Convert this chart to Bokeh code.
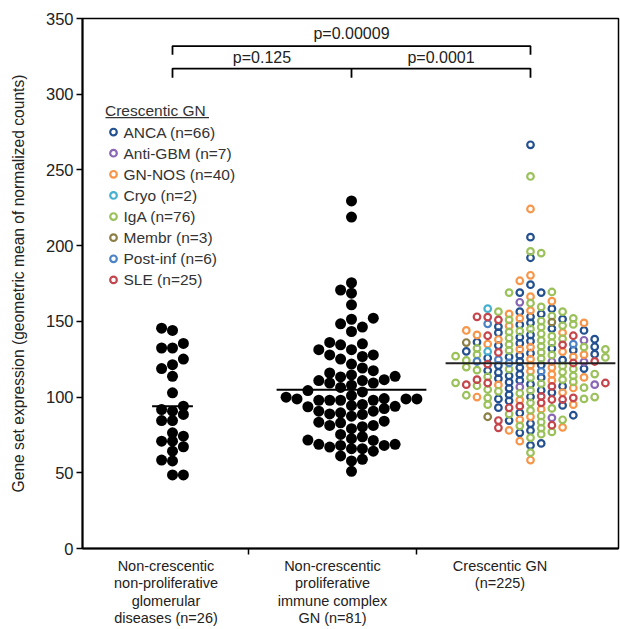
import numpy as np
from bokeh.plotting import figure
from bokeh.models import FixedTicker, Range1d
from bokeh.embed import file_html
from bokeh.resources import INLINE
from bokeh.core.properties import value

# ---------------- data ----------------
group_label_lines = [["Non-crescentic", "non-proliferative", "glomerular", "diseases (n=26)"],
                     ["Non-crescentic", "proliferative", "immune complex", "GN (n=81)"],
                     ["Crescentic GN", "(n=225)"]]

noncres_nonprolif = [145.5, 144.0, 135.4, 132.4, 132.4, 125.1, 121.4, 118.8, 113.7, 102.8,
                     94.0, 91.8, 88.5, 90.7, 84.5, 84.5, 74.2, 67.2, 76.4, 70.9,
                     64.3, 70.9, 57.8, 58.4, 48.6, 48.6]

noncres_prolif = [229.5, 218.9, 175.5, 170.7, 168.6, 160.9, 152.1, 151.4, 148.4, 146.2,
                  143.3, 136.1, 135.2, 134.5, 131.3, 131.3, 127.8, 127.8, 125.1, 126.8,
                  119.2, 121.8, 117.4, 114.6, 113.3, 113.7, 115.9, 110.9, 110.9, 111.5,
                  109.3, 109.3, 106.4, 107.8, 103.4, 104.3, 98.8, 98.8, 98.8, 97.9,
                  97.9, 97.9, 97.9, 99.9, 99.0, 101.0, 95.1, 93.9, 92.4, 94.4,
                  93.6, 90.7, 90.7, 88.9, 87.4, 88.5, 89.6, 83.0, 81.3, 81.3,
                  79.1, 84.1, 80.4, 83.4, 75.3, 72.5, 71.4, 68.8, 68.8, 71.6,
                  73.8, 68.1, 68.1, 65.9, 65.9, 64.3, 67.0, 58.9, 57.8, 61.1, 51.0]

subtypes = ["ANCA", "Anti-GBM", "GN-NOS", "Cryo", "IgA", "Membr", "Post-inf", "SLE"]
subtype_colors = ["#23508f", "#8a67b4", "#f7964a", "#46b1cf", "#9bc15a", "#8b7f45", "#4c82c6", "#c4464c"]

anca = [266.6, 205.6, 192.0, 174.2, 169.0, 169.0, 158.4, 156.4, 154.9, 153.0,
        151.5, 149.0, 147.8, 146.5, 144.0, 142.5, 141.0, 139.5, 138.2, 137.0,
        135.5, 134.0, 133.2, 132.0, 131.0, 130.2, 129.0, 127.5, 126.5, 125.8,
        124.5, 123.5, 120.8, 119.5, 118.8, 117.5, 116.2, 115.0, 114.0, 113.0,
        112.2, 111.0, 109.8, 108.5, 107.2, 105.8, 104.5, 103.0, 101.5, 100.2,
        98.8, 97.5, 121.2, 94.5, 93.0, 128.3, 89.5, 88.0, 136.3, 84.5,
        82.5, 145.2, 78.0, 76.4, 69.4, 68.1]
anti_gbm = [162.6, 137.5, 123.5, 123.2, 108.2, 106.7, 86.3]
gn_nos = [224.2, 180.4, 176.8, 166.3, 163.3, 157.1, 154.9, 152.0, 149.0, 147.0,
          144.0, 141.0, 138.0, 135.0, 133.0, 130.0, 128.0, 125.0, 121.0, 119.5,
          117.0, 115.0, 113.0, 111.0, 108.0, 106.0, 103.0, 100.0, 98.0, 95.0,
          92.0, 126.5, 87.0, 85.0, 131.5, 80.0, 78.0, 70.9, 58.4, 142.5]
cryo = [158.4, 130.1]
iga = [245.7, 196.2, 195.1, 169.4, 169.0, 156.4, 156.4, 153.5, 152.0, 150.2,
       148.0, 146.2, 145.0, 143.5, 141.8, 140.2, 138.5, 137.4, 136.0, 134.8,
       133.5, 132.2, 130.8, 129.5, 128.0, 127.0, 125.5, 124.2, 162.0, 120.6,
       119.8, 118.6, 117.8, 116.5, 115.2, 114.0, 112.8, 111.5, 110.0, 108.8,
       107.5, 106.2, 105.0, 103.8, 102.5, 101.2, 100.0, 98.8, 127.8, 96.2,
       95.0, 133.0, 92.5, 91.2, 139.0, 88.8, 87.5, 143.0, 85.0, 83.5,
       147.2, 81.0, 79.5, 151.0, 77.0, 75.5, 73.2, 63.3, 99.5, 104.4,
       109.4, 113.4, 118.4, 159.5, 126.2, 131.5]
membr = [149.5, 136.0, 87.0]
post_inf = [148.4, 135.0, 124.7, 123.5, 122.5, 117.0]
sle = [153.0, 152.8, 151.0, 140.5, 140.5, 134.5, 129.5, 123.5, 122.5, 121.8,
       111.5, 109.3, 109.3, 108.2, 107.1, 100.5, 99.5, 98.4, 98.4, 96.2,
       94.0, 92.9, 84.5, 81.4, 79.7]
crescentic = [anca, anti_gbm, gn_nos, cryo, iga, membr, post_inf, sle]
subtype_counts = [66, 7, 40, 2, 76, 3, 6, 25]

center_lines = [94.0, 104.9, 122.3]
p_texts = ["p=0.00009", "p=0.125", "p=0.0001"]
y_ticks = [0, 50, 100, 150, 200, 250, 300, 350]
y_title = "Gene set expression (geometric mean of normalized counts)"

# ---------------- geometry ----------------
W, H = 620, 629
BL, BR, BT = 82, 2, 18
FH = 532
BB = H - BT - FH
SX = 179.0
X0 = 1 - 90.0 / SX
FW = W - BL - BR
X1 = X0 + FW / SX
SY = FH / 350.0
PAGE_L, PAGE_B = BL, BT + FH


def dx(px):
    return X0 + (px - PAGE_L) / SX


def dy(py):
    return (PAGE_B - py) / SY


def swarm(vals, col_px, row_px):
    vals = np.asarray(vals, float)
    order = np.argsort(vals, kind="stable")
    cols = {}
    off = np.zeros(len(vals))
    side = {1: 0, -1: 0}
    for i in order:
        y = vals[i] * SY

        def free(k):
            return all(abs(y - yy) >= row_px for yy in cols.get(k, []))
        if free(0):
            k = 0
        else:
            j = 1
            while True:
                fp, fm = free(j), free(-j)
                if fp and fm:
                    k = j if side[1] <= side[-1] else -j
                    break
                if fp:
                    k = j
                    break
                if fm:
                    k = -j
                    break
                j += 1
        if k:
            side[1 if k > 0 else -1] += 1
        cols.setdefault(k, []).append(y)
        off[i] = k * col_px / SX
    return off


FONT = "Liberation Sans"

p = figure(width=W, height=H, x_range=Range1d(X0, X1), y_range=Range1d(0, 350),
           output_backend="svg", toolbar_location=None,
           min_border_left=BL, min_border_right=BR, min_border_top=BT, min_border_bottom=BB)
p.xgrid.visible = False
p.ygrid.visible = False
p.outline_line_color = "black"
p.outline_line_width = 1.5

p.yaxis.ticker = FixedTicker(ticks=y_ticks)
p.yaxis.major_tick_in = 0
p.yaxis.major_tick_out = 6
p.yaxis.major_tick_line_width = 1.5
p.yaxis.minor_tick_line_color = None
p.yaxis.axis_line_width = 2
p.yaxis.major_label_text_font = FONT
p.yaxis.major_label_text_font_size = "16.5px"
p.yaxis.major_label_text_color = "#222222"
p.yaxis.major_label_standoff = 3
p.yaxis.axis_label = y_title
p.yaxis.axis_label_text_font = FONT
p.yaxis.axis_label_text_font_size = "15.6px"
p.yaxis.axis_label_text_font_style = "normal"
p.yaxis.axis_label_text_color = "#222222"
p.yaxis.axis_label_standoff = 16

label_cx = [dx(165.5), dx(332.0), dx(499.5)]
p.xaxis.ticker = FixedTicker(ticks=label_cx, minor_ticks=[dx(248.3), dx(416.0)])
p.xaxis.major_tick_line_color = None
p.xaxis.major_tick_out = 6
p.xaxis.major_tick_in = 0
p.xaxis.minor_tick_in = 0
p.xaxis.minor_tick_out = 6
p.xaxis.minor_tick_line_width = 1.5
p.xaxis.minor_tick_line_color = "black"
p.xaxis.axis_line_width = 2
p.xaxis.major_label_overrides = {cx: "\n".join(lines) for cx, lines in zip(label_cx, group_label_lines)}
p.xaxis.major_label_text_font = FONT
p.xaxis.major_label_text_font_size = "14.5px"
p.xaxis.major_label_text_color = "#222222"
p.xaxis.major_label_text_line_height = 1.1
p.xaxis.major_label_standoff = 3

# groups 1 and 2: filled dots
for gi, (vals, rpx) in enumerate([(noncres_nonprolif, 8.3), (noncres_prolif, 10.0)]):
    off = swarm(vals, 10.9, rpx)
    p.scatter(x=(gi + 1) + off, y=vals, size=11, marker="circle",
              fill_color="black", line_color=None)
    half = np.max(np.abs(off)) + 9.5 / SX
    p.segment(x0=[gi + 1 - half], y0=[center_lines[gi]], x1=[gi + 1 + half], y1=[center_lines[gi]],
              line_color="black", line_width=2)

# group 3: open circles coloured by subtype
all_vals, all_cols = [], []
for vals, col in zip(crescentic, subtype_colors):
    all_vals += list(vals)
    all_cols += [col] * len(vals)
off3 = swarm(all_vals, 10.7, 5.8)
p.scatter(x=3 + off3, y=all_vals, size=6.6, marker="circle", fill_color=None,
          line_color=all_cols, line_width=2.2)
half3 = np.max(np.abs(off3)) + 10.0 / SX
p.segment(x0=[3 - half3], y0=[center_lines[2]], x1=[3 + half3], y1=[center_lines[2]],
          line_color="#222222", line_width=2)

# significance brackets
top_y, top_drop = dy(45.7), dy(54.5)
mid_y, mid_drop = dy(68.3), dy(77.5)
p.line(x=[1, 1, 3, 3], y=[top_drop, top_y, top_y, top_drop], line_color="black", line_width=1.8)
p.line(x=[1, 1, 3, 3], y=[mid_drop, mid_y, mid_y, mid_drop], line_color="black", line_width=1.8)
p.line(x=[2, 2], y=[mid_drop, mid_y], line_color="black", line_width=1.8)
p.text(x=[2.0, 1.5, 2.5], y=[dy(33.5), dy(57.0), dy(57.0)], text=p_texts,
       text_align="center", text_baseline="middle", text_font=value(FONT),
       text_font_size="16px", text_color="#222222")

# legend
leg_y = [dy(132.0 + 21.2 * i) for i in range(len(subtypes))]
leg_text = [f"{s} (n={c})" for s, c in zip(subtypes, subtype_counts)]
p.scatter(x=[dx(113)] * len(subtypes), y=leg_y, size=6.6, marker="circle", fill_color=None,
          line_color=subtype_colors, line_width=2.2)
p.text(x=[dx(123)] * len(subtypes), y=leg_y, text=leg_text, text_align="left",
       text_baseline="middle", text_font=value(FONT), text_font_size="15.5px", text_color="#333333")
p.text(x=[dx(104.5)], y=[dy(110.0)], text=["Crescentic GN"], text_align="left",
       text_baseline="middle", text_font=value(FONT), text_font_size="15.5px", text_color="#333333")
p.segment(x0=[dx(105)], y0=[dy(117.5)], x1=[dx(208.5)], y1=[dy(117.5)],
          line_color="#333333", line_width=1.2)

open("out.html", "w").write(file_html(p, INLINE))
